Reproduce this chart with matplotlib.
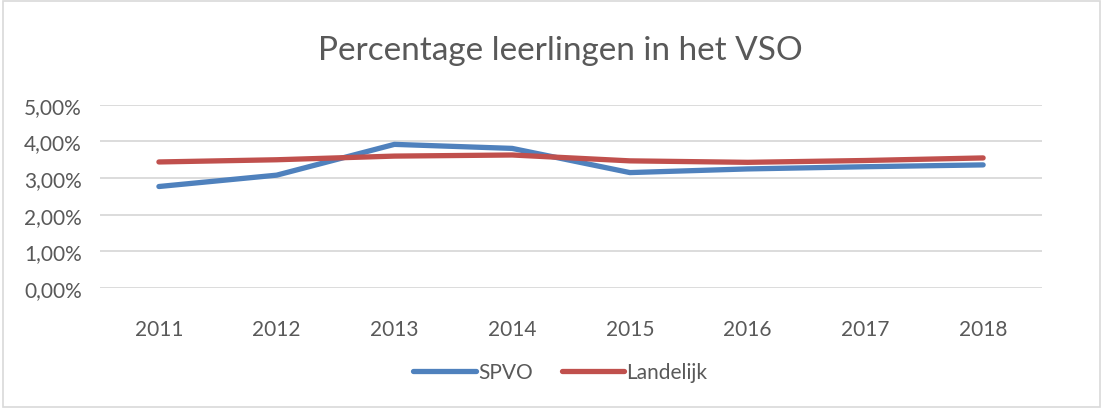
import numpy as np
import matplotlib.pyplot as plt
from matplotlib.patches import Rectangle
from matplotlib.ticker import FuncFormatter

plt.rcParams['font.family'] = ['Lato', 'DejaVu Sans']

years = ['2011', '2012', '2013', '2014', '2015', '2016', '2017', '2018']
spvo = [0.0277, 0.0308, 0.0392, 0.0381, 0.0315, 0.0325, 0.0331, 0.0336]
landelijk = [0.0344, 0.0350, 0.0360, 0.0363, 0.0347, 0.0343, 0.0348, 0.0355]

text_col = '#595959'
fig = plt.figure(figsize=(11.03, 4.10), dpi=100)
ax = fig.add_axes([0.0907, 0.295, 0.854, 0.447])

x = np.arange(len(years))
ax.plot(x, spvo, color='#4F81BD', lw=3.8, solid_capstyle='round', label='SPVO')
ax.plot(x, landelijk, color='#C0504D', lw=3.8, solid_capstyle='round', label='Landelijk')

ax.set_xlim(-0.5, 7.5)
ax.set_ylim(0, 0.05)
ax.set_yticks(np.arange(0, 0.051, 0.01))
ax.yaxis.set_major_formatter(FuncFormatter(lambda v, p: f'{v*100:.2f}%'.replace('.', ',')))
ax.set_xticks(x)
ax.set_xticklabels(years)
ax.grid(axis='y', color='#D9D9D9', lw=1.3)
ax.set_axisbelow(True)
for s in ax.spines.values():
    s.set_visible(False)
ax.tick_params(length=0, labelsize=15, colors=text_col)
ax.tick_params(axis='x', pad=22)
ax.tick_params(axis='y', pad=13)

fig.text(0.508, 0.875, 'Percentage leerlingen in het VSO', ha='center', va='center',
         fontsize=24, color=text_col)

fig.legend(loc='center', bbox_to_anchor=(0.508, 0.09), ncol=2, frameon=False,
           fontsize=15, labelcolor=text_col, handlelength=3.0, handletextpad=0.1,
           columnspacing=1.4)

fig.add_artist(Rectangle((0.003, 0.006), 0.994, 0.99, transform=fig.transFigure,
                         fill=False, edgecolor='#D9D9D9', lw=1.2))

plt.savefig('out.png', dpi=100)
